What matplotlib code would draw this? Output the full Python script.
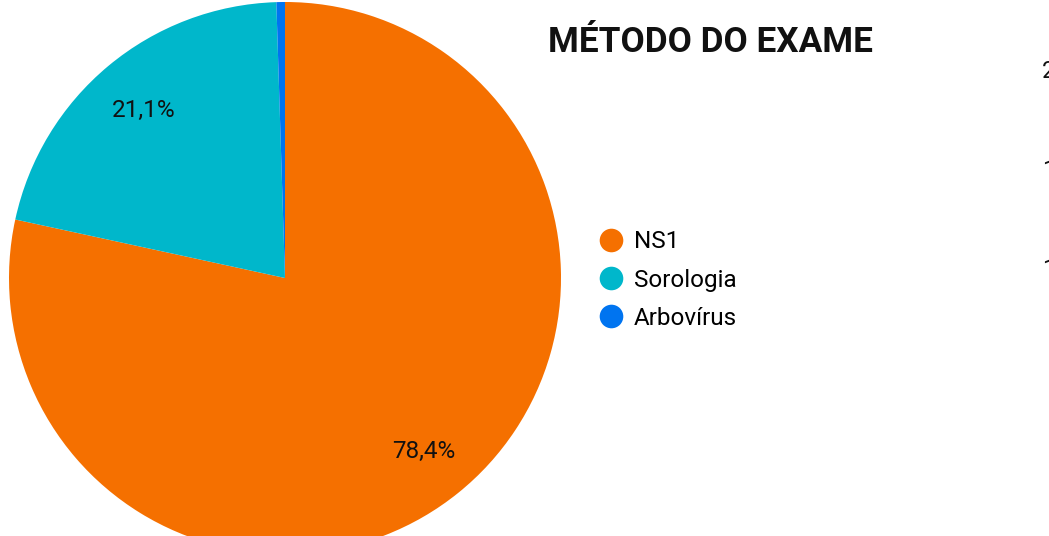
import matplotlib
matplotlib.use("Agg")
import matplotlib.pyplot as plt
from matplotlib.lines import Line2D
import numpy as np

categories = ["NS1", "Sorologia", "Arbovírus"]
values = [78.4, 21.1, 0.5]
colors = ["#F57000", "#00B7CB", "#0074F0"]
pct_labels = ["78,4%", "21,1%", ""]
title = "MÉTODO DO EXAME"
edge_ticks = ["200", "150", "100"]

plt.rcParams['font.family'] = ['Roboto', 'DejaVu Sans']

W, H = 1049, 536
fig = plt.figure(figsize=(W / 100, H / 100), dpi=100)

cx, cy, r = 285, 278, 276
ax = fig.add_axes([(cx - r) / W, (H - cy - r) / H, 2 * r / W, 2 * r / H])
wedges, _ = ax.pie(values, colors=colors, startangle=90, counterclock=False,
                   radius=1, wedgeprops=dict(linewidth=0))
theta = 90.0
total = sum(values)
for v, lab in zip(values, pct_labels):
    span = 360.0 * v / total
    mid = np.deg2rad(theta - span / 2)
    theta -= span
    if lab:
        ax.text(0.8 * np.cos(mid), 0.8 * np.sin(mid) - 0.006, lab, ha="center", va="center",
                fontsize=17.5, color="#111111")
ax.set_xlim(-1, 1)
ax.set_ylim(-1, 1)
ax.set_aspect("equal")
ax.axis("off")

fig.text(710 / W, 1 - 42 / H, title, ha="center", va="center",
         fontsize=25.3, fontweight="bold", color="#111111")

handles = [Line2D([], [], marker="o", linestyle="none", markersize=17,
                  markerfacecolor=c, markeredgewidth=0) for c in colors]
fig.legend(handles, categories, loc="center left",
           bbox_to_anchor=(599 / W, 1 - 280 / H), frameon=False,
           fontsize=17.5, handlelength=1.0, handletextpad=0.42,
           labelspacing=0.63, borderpad=0, borderaxespad=0)

for t, y in zip(edge_ticks, [72, 170, 270]):
    fig.text(1042 / W, 1 - y / H, t, ha="left", va="center", fontsize=17, color="#111111")

fig.savefig("out.png", dpi=100)
